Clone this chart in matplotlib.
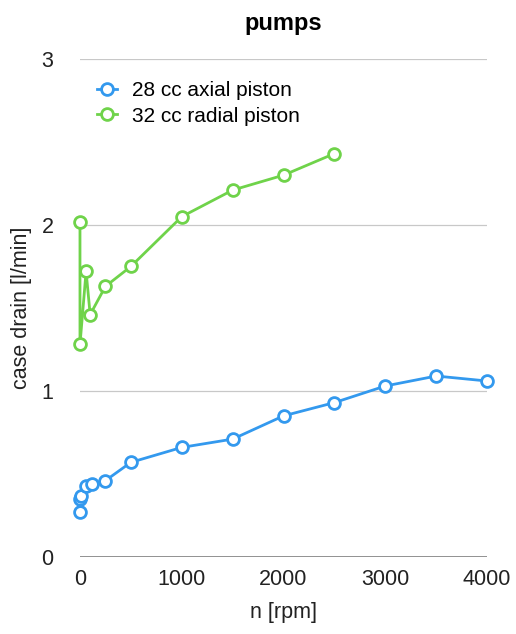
import matplotlib.pyplot as plt

plt.rcParams['font.family'] = ['Liberation Sans', 'DejaVu Sans']

# dados
rpm_axial = [0, 0, 10, 60, 120, 250, 500, 1000, 1500, 2000, 2500, 3000, 3500, 4000]
drain_axial = [0.27, 0.35, 0.37, 0.43, 0.44, 0.46, 0.57, 0.66, 0.71, 0.85, 0.93, 1.03, 1.09, 1.06]

rpm_radial = [0, 0, 60, 100, 250, 500, 1000, 1500, 2000, 2500]
drain_radial = [2.02, 1.28, 1.72, 1.46, 1.63, 1.75, 2.05, 2.21, 2.30, 2.43]

blue = '#3399ee'
green = '#6fd34a'

fig = plt.figure(figsize=(5.16, 6.34), dpi=100)
ax = fig.add_axes([0.155, 0.1215, 0.789, 0.7855])

for x, y, c, lbl in [(rpm_axial, drain_axial, blue, '28 cc axial piston'),
                     (rpm_radial, drain_radial, green, '32 cc radial piston')]:
    ax.plot(x, y, color=c, lw=2, marker='o', ms=8.5, mfc='white', mec=c, mew=2,
            label=lbl, clip_on=False, zorder=3)

ax.set_xlim(0, 4000)
ax.set_ylim(0, 3)
ax.set_xticks([0, 1000, 2000, 3000, 4000])
ax.set_yticks([0, 1, 2, 3])
ax.yaxis.grid(True, color='#c8c8c8', lw=0.9)
ax.axhline(0, color='#808080', lw=1.2, zorder=2)
for s in ax.spines.values():
    s.set_visible(False)
ax.tick_params(length=0, labelsize=15.5, colors='#222222')
ax.tick_params(axis='y', pad=19)
ax.tick_params(axis='x', pad=9)

ax.set_xlabel('n [rpm]', fontsize=15.5, color='#222222', labelpad=8)
ax.set_ylabel('case drain [l/min]', fontsize=15.5, color='#222222', labelpad=7)
ax.set_title('pumps', fontsize=17, fontweight='bold', pad=21)

ax.legend(loc='upper left', bbox_to_anchor=(0.01, 0.98), frameon=False, fontsize=15,
          handlelength=1.0, handletextpad=0.7, labelspacing=0.3, borderaxespad=0.2)

fig.savefig('out.png', dpi=100)
